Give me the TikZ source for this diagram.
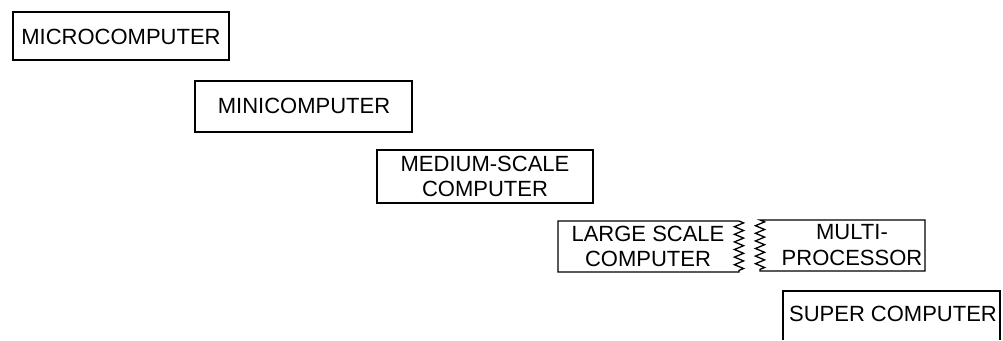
\documentclass[tikz,border=0pt]{standalone}
\usepackage{fontspec}
\setmainfont{Liberation Sans}
\usetikzlibrary{decorations.pathmorphing}

\tikzset{
  label/.style={font=\fontsize{22}{25.5}\selectfont, align=center, inner sep=0pt},
  outline/.style={line width=1.3pt, line join=miter},
  torn/.style={decorate, decoration={zigzag, segment length=7.6pt, amplitude=4.6pt}}
}

\begin{document}
\begin{tikzpicture}[x=1pt, y=-1pt]
  \useasboundingbox (0,0) rectangle (1003,340);

  % text of the six machine classes
  \node[label] (micro)  at (121,36.5)  {MICROCOMPUTER};
  \node[label] (mini)   at (304,106)   {MINICOMPUTER};
  \node[label] (medium) at (485,176.5) {MEDIUM-SCALE\\COMPUTER};
  \node[label] (large)  at (648,246.5) {LARGE SCALE\\COMPUTER};
  \node[label] (multi)  at (852,245)   {MULTI-\\PROCESSOR};
  \node[label] (super)  at (893,313.5) {SUPER COMPUTER};

  % plain frames
  \draw[outline] (13,12)  rectangle (229,60);
  \draw[outline] (195,81) rectangle (412,132);
  \draw[outline] (377,150) rectangle (593,203);

  % frames torn apart along a jagged edge
  \draw[outline] (558,221) -- (739,221)
    decorate[torn] { -- (739,272) } -- (558,272) -- cycle;
  \draw[outline] (925,220) -- (760,220)
    decorate[torn] { -- (760,271) } -- (925,271) -- cycle;

  % frame running off the bottom edge
  \draw[outline] (783,340) -- (783,291) -- (1000,291) -- (1000,340);
\end{tikzpicture}
\end{document}
